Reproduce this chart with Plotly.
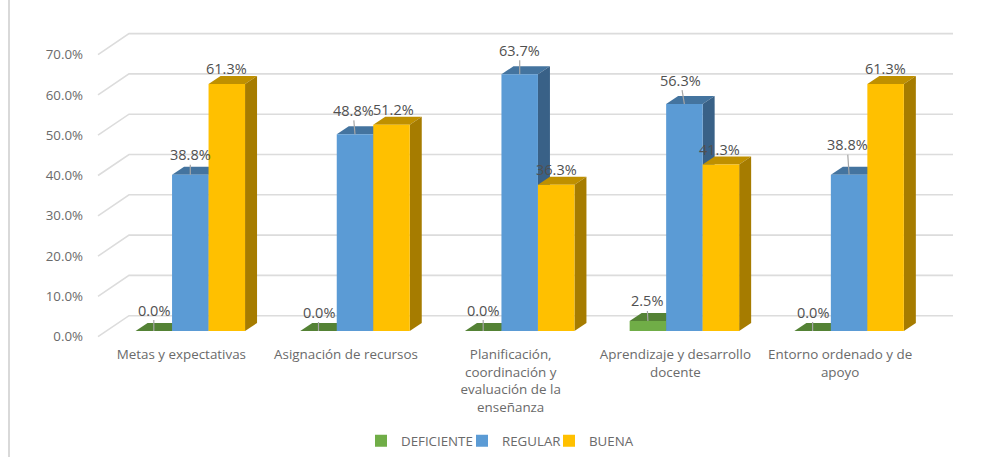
import plotly.graph_objects as go

categories = ["Metas y expectativas", "Asignación de recursos",
              "Planificación,<br>coordinación y<br>evaluación de la<br>enseñanza",
              "Aprendizaje y desarrollo<br>docente", "Entorno ordenado y de<br>apoyo"]
deficiente = [0.0, 0.0, 0.0, 2.5, 0.0]
regular = [38.8, 48.8, 63.7, 56.3, 38.8]
buena = [61.3, 51.2, 36.3, 41.3, 61.3]
names = ["DEFICIENTE", "REGULAR", "BUENA"]
y_ticks = [0, 10, 20, 30, 40, 50, 60, 70]

# colours: front, top, side
colors = [("#70AD47", "#548235", "#476F2D"),
          ("#5B9BD5", "#44749F", "#396187"),
          ("#FFC000", "#BF9000", "#A67C00")]
# label pixel offsets from each bar's front-top centre
offs = {
    0: [(0, -21), (0, -19), (0, -21), (-1, -20), (0, -19)],
    1: [(0, -20), (-2, -24), (0, -24), (-4, -24), (-2, -30)],
    2: [(0, -15), (2, -15), (0, -15), (-1, -15), (0, -15)],
}
legend_text_left = [401, 502, 589]

W, H = 987, 457
L, R, T, B = 90, 965, 20, 340
PX_PER_CAT = 164.7
PX_PER_PCT = 4.03
C0 = 190.3          # pixel of first group's centre
BW = 36.5 / PX_PER_CAT
DX, DY = 12 / PX_PER_CAT, 8 / PX_PER_PCT
xr = [(L - C0) / PX_PER_CAT, (R - C0) / PX_PER_CAT]
def yrange(zero_px):
    return [(zero_px - B) / PX_PER_PCT, (zero_px - T) / PX_PER_PCT]

fig = go.Figure()
text_color = "#6A6A6A"
grid = "#DCDCDC"

# wall gridlines on the primary axis (zero at the wall's front edge)
xf, xb, xe = (98 - C0) / PX_PER_CAT, (129 - C0) / PX_PER_CAT, (953 - C0) / PX_PER_CAT
dy_wall = 21 / PX_PER_PCT
for v in y_ticks:
    fig.add_trace(go.Scatter(x=[xf, xb, xe], y=[v, v + dy_wall, v + dy_wall], mode="lines",
                             line=dict(color=grid, width=1.6), hoverinfo="skip",
                             showlegend=False, yaxis="y"))

series = [deficiente, regular, buena]
# depth faces, under the front faces
for s, vals in enumerate(series):
    for k, v in enumerate(vals):
        x0 = k + (s - 1.5) * BW
        x1 = x0 + BW
        fig.add_trace(go.Scatter(x=[x0, x0 + DX, x1 + DX, x1, x0], y=[v, v + DY, v + DY, v, v],
                                 fill="toself", mode="lines", line=dict(width=0),
                                 fillcolor=colors[s][1], hoverinfo="skip",
                                 showlegend=False, yaxis="y2"))
        fig.add_trace(go.Scatter(x=[x1, x1 + DX, x1 + DX, x1, x1], y=[0, DY, v + DY, v, 0],
                                 fill="toself", mode="lines", line=dict(width=0),
                                 fillcolor=colors[s][2], hoverinfo="skip",
                                 showlegend=False, yaxis="y2"))

# front faces
for s, vals in enumerate(series):
    fig.add_trace(go.Bar(x=list(range(5)), y=vals, name=names[s], width=BW,
                         offset=(s - 1.5) * BW, marker=dict(color=colors[s][0], line=dict(width=0)),
                         yaxis="y3", legend="legend" if s == 0 else f"legend{s + 1}"))

annotations = []
for s, vals in enumerate(series):
    for k, v in enumerate(vals):
        ax, ay = offs[s][k]
        annotations.append(dict(x=k + (s - 1) * BW, y=v, xref="x", yref="y3",
                                text=f"{v:.1f}%", showarrow=True, arrowhead=0, arrowwidth=1.2,
                                arrowcolor="rgba(0,0,0,0)" if s == 2 else "#A6A6A6",
                                ax=ax, ay=ay, axref="pixel", ayref="pixel",
                                standoff=0, startstandoff=0, borderpad=0,
                                font=dict(size=14.5, color="#505050")))

def legend_at(px):
    return dict(orientation="h", x=(px - 40) / W, xanchor="left", xref="container",
                y=1 - 441 / H, yanchor="middle", yref="container",
                font=dict(size=13.3, color=text_color), itemwidth=30,
                bgcolor="rgba(0,0,0,0)")

fig.update_layout(
    width=W, height=H, margin=dict(l=L, r=W - R, t=T, b=H - B, pad=0, autoexpand=False),
    paper_bgcolor="white", plot_bgcolor="white",
    font=dict(family="Open Sans", size=13.4, color=text_color),
    barmode="overlay", showlegend=True,
    legend=legend_at(legend_text_left[0]),
    legend2=legend_at(legend_text_left[1]),
    legend3=legend_at(legend_text_left[2]),
    xaxis=dict(range=xr, tickmode="array", tickvals=[k - 9 / PX_PER_CAT for k in range(5)],
               ticktext=categories, showgrid=False, zeroline=False, showline=False, ticks="",
               ticklabelstandoff=5, fixedrange=True, tickangle=0),
    yaxis=dict(range=yrange(336.7), tickmode="array", tickvals=y_ticks,
               ticktext=[f"{v:.1f}%" for v in y_ticks], showgrid=False, zeroline=False,
               showline=False, ticks="", ticklabelstandoff=6, tickfont=dict(size=13.3),
               fixedrange=True),
    yaxis2=dict(range=yrange(331), overlaying="y", visible=False, fixedrange=True),
    yaxis3=dict(range=yrange(331), overlaying="y", visible=False, fixedrange=True),
    annotations=annotations,
    shapes=[dict(type="line", xref="paper", yref="paper",
                 x0=(9 - L) / (R - L), x1=(9 - L) / (R - L),
                 y0=(B - 0) / (B - T), y1=(B - H) / (B - T),
                 line=dict(color="#D9D9D9", width=2))],
)
fig.write_html("out.html", config={"displayModeBar": False},
               post_script="document.body.style.margin='0';")
